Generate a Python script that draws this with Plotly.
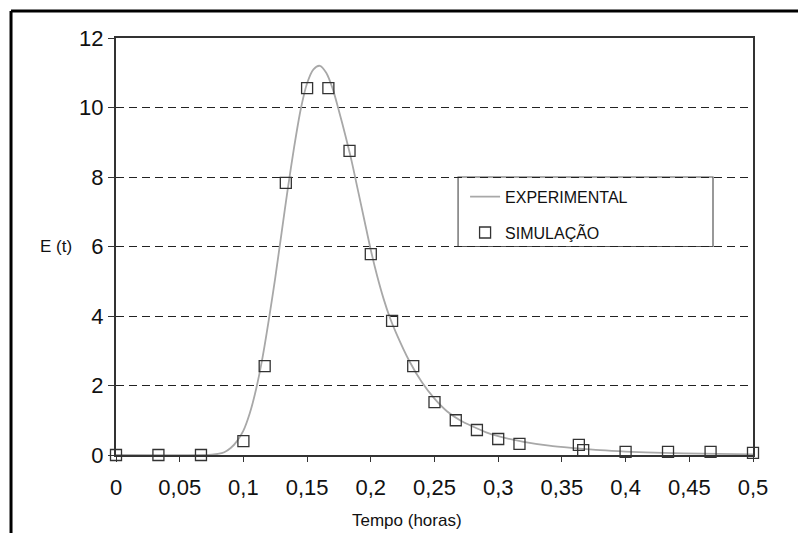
import plotly.graph_objects as go

# Experimental curve
exp_t = [0, 0.07, 0.075, 0.08, 0.085, 0.09, 0.095, 0.1, 0.105, 0.11, 0.115, 0.12,
         0.125, 0.13, 0.135, 0.14, 0.145, 0.15, 0.155, 0.16, 0.165, 0.17, 0.175,
         0.18, 0.185, 0.19, 0.195, 0.2, 0.205, 0.21, 0.215, 0.22, 0.23, 0.24, 0.25,
         0.26, 0.27, 0.28, 0.29, 0.3, 0.32, 0.34, 0.36, 0.38, 0.4, 0.43, 0.46, 0.5]
exp_e = [0, 0, 0.01, 0.03, 0.08, 0.2, 0.4, 0.7, 1.2, 1.9, 2.8, 3.9,
         5.1, 6.4, 7.7, 8.9, 9.95, 10.7, 11.1, 11.2, 11.0, 10.55, 9.9,
         9.2, 8.45, 7.6, 6.75, 5.9, 5.15, 4.5, 3.95, 3.5, 2.72, 2.1, 1.62,
         1.25, 1.0, 0.82, 0.66, 0.54, 0.38, 0.27, 0.2, 0.14, 0.1, 0.06, 0.04, 0.02]

# Simulation points
sim_t = [0, 0.0333, 0.0667, 0.1, 0.1167, 0.1333, 0.15, 0.1667, 0.1833, 0.2,
         0.2167, 0.2333, 0.25, 0.2667, 0.2833, 0.3, 0.3167, 0.3633, 0.3667,
         0.4, 0.4333, 0.4667, 0.5]
sim_e = [0, 0, 0, 0.4, 2.56, 7.83, 10.56, 10.56, 8.75, 5.78,
         3.86, 2.56, 1.52, 1.0, 0.72, 0.46, 0.32, 0.29, 0.14,
         0.09, 0.09, 0.09, 0.06]

x_tickvals = [0, 0.05, 0.1, 0.15, 0.2, 0.25, 0.3, 0.35, 0.4, 0.45, 0.5]
x_ticktext = ["0", "0,05", "0,1", "0,15", "0,2", "0,25", "0,3", "0,35", "0,4", "0,45", "0,5"]
y_tickvals = [0, 2, 4, 6, 8, 10, 12]

FONT = "Liberation Sans, Arial, sans-serif"

fig = go.Figure()
fig.add_trace(go.Scatter(
    x=exp_t, y=exp_e, mode="lines", name="EXPERIMENTAL",
    line=dict(color="#a8a8a8", width=1.8, shape="spline", smoothing=0.8),
    legendgroup="a", cliponaxis=False,
))
fig.add_trace(go.Scatter(
    x=sim_t, y=sim_e, mode="markers", name="SIMULAÇÃO",
    marker=dict(symbol="square-open", size=11, color="#333333",
                line=dict(width=1.3, color="#333333")),
    legendgroup="b", cliponaxis=False,
))

# legend box
fig.add_shape(type="rect", xref="x", yref="y", x0=0.2685, x1=0.4686, y0=6.0, y1=8.0,
              line=dict(color="#555555", width=1.2), fillcolor="white", layer="below")
# outer frame (left and top)
fig.add_shape(type="line", xref="paper", yref="paper", x0=-0.1648, x1=-0.1648,
              y0=1.0647, y1=-0.25, line=dict(color="black", width=3))
fig.add_shape(type="line", xref="paper", yref="paper", x0=-0.1648, x1=1.2,
              y0=1.0647, y1=1.0647, line=dict(color="black", width=3))

fig.add_annotation(text="E (t)", xref="paper", yref="y", x=-0.066, y=6,
                   xanchor="right", yanchor="middle", showarrow=False,
                   font=dict(family=FONT, size=17, color="#111111"))
fig.add_annotation(text="Tempo (horas)", xref="paper", yref="paper", x=0.457, y=-0.158,
                   xanchor="center", yanchor="middle", showarrow=False,
                   font=dict(family=FONT, size=17, color="#111111"))

fig.update_layout(
    width=798, height=525,
    margin=dict(l=108, r=53, t=30, b=78, autoexpand=False),
    plot_bgcolor="white", paper_bgcolor="white",
    font=dict(family=FONT, color="#111111"),
    showlegend=True,
    legend=dict(x=0.548, y=0.66, xanchor="left", yanchor="top",
                bgcolor="rgba(0,0,0,0)", borderwidth=0,
                font=dict(family=FONT, size=16, color="#111111"),
                traceorder="grouped", tracegroupgap=12),
    xaxis=dict(range=[0, 0.5], tickvals=x_tickvals, ticktext=x_ticktext,
               showgrid=False, zeroline=False, showline=True, mirror=True,
               linecolor="#333333", linewidth=2, ticks="outside", ticklen=5,
               ticklabelstandoff=7,
               tickcolor="#333333", tickfont=dict(family=FONT, size=22, color="#111111"),
               automargin=False),
    yaxis=dict(range=[0, 12], tickvals=y_tickvals, showgrid=True,
               gridcolor="#222222", gridwidth=1, griddash="8px,5px",
               zeroline=False, showline=True, mirror=True,
               linecolor="#333333", linewidth=2, ticks="outside", ticklen=6,
               tickcolor="#333333", tickfont=dict(family=FONT, size=22, color="#111111"),
               automargin=False),
)

fig.write_html("out.html")
